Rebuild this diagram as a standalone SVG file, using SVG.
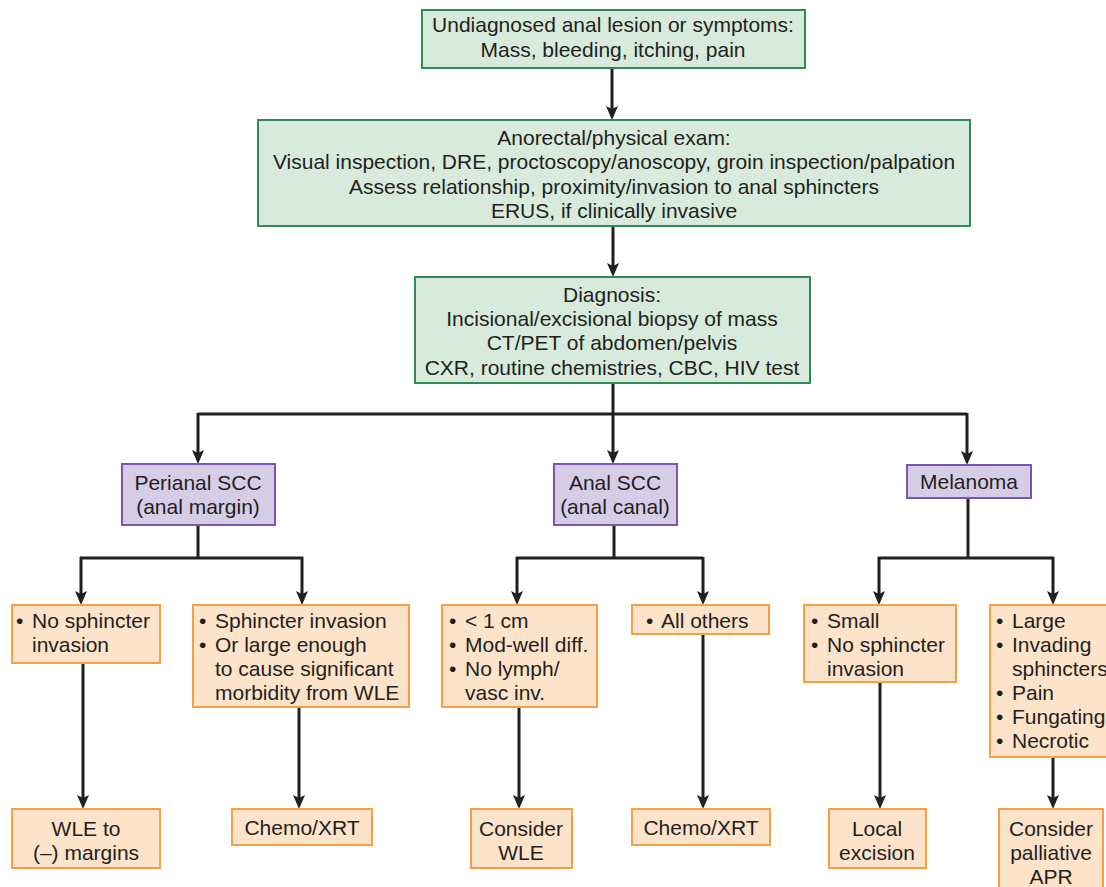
<svg xmlns="http://www.w3.org/2000/svg" width="1106" height="887" viewBox="0 0 1106 887">
<defs>
<style>
text{font-family:"Liberation Sans",Arial,sans-serif;font-size:21px;fill:#231f20}
.c{text-anchor:middle}
.g{fill:#d7eadb;stroke:#2f8a55;stroke-width:2}
.p{fill:#d5cce6;stroke:#7a58b0;stroke-width:2}
.o{fill:#fde3c9;stroke:#f5a043;stroke-width:2}
.ln{fill:none;stroke:#231f20;stroke-width:3}
.ar{fill:none;stroke:#231f20;stroke-width:3;marker-end:url(#ah)}
</style>
<marker id="ah" markerUnits="userSpaceOnUse" markerWidth="16" markerHeight="12" refX="10" refY="6" orient="auto">
<path d="M0,0 L14,6 L0,12 L3,6 z" fill="#231f20"/>
</marker>
</defs>
<rect width="1106" height="887" fill="#ffffff"/>

<g id="connectors">
<line class="ar" x1="612" y1="68" x2="612" y2="116"/>
<line class="ar" x1="613" y1="226" x2="613" y2="273"/>
<polyline class="ln" points="613,383 613,414"/>
<polyline class="ln" points="198,414 967,414"/>
<line class="ar" x1="198" y1="413" x2="198" y2="460"/>
<line class="ar" x1="613" y1="413" x2="613" y2="460"/>
<line class="ar" x1="967" y1="413" x2="967" y2="461"/>
<polyline class="ln" points="198,525 198,558"/>
<polyline class="ln" points="80,558 303,558"/>
<line class="ar" x1="81" y1="557" x2="81" y2="601"/>
<line class="ar" x1="302" y1="557" x2="302" y2="601"/>
<polyline class="ln" points="614,525 614,558"/>
<polyline class="ln" points="516,558 703,558"/>
<line class="ar" x1="517" y1="557" x2="517" y2="601"/>
<line class="ar" x1="703" y1="557" x2="703" y2="601"/>
<polyline class="ln" points="968,498 968,558"/>
<polyline class="ln" points="878,558 1054,558"/>
<line class="ar" x1="879" y1="557" x2="879" y2="601"/>
<line class="ar" x1="1053" y1="557" x2="1053" y2="601"/>
<line class="ar" x1="83" y1="663" x2="83" y2="805"/>
<line class="ar" x1="299" y1="707" x2="299" y2="805"/>
<line class="ar" x1="519" y1="707" x2="519" y2="805"/>
<line class="ar" x1="703" y1="634" x2="703" y2="805"/>
<line class="ar" x1="880" y1="682" x2="880" y2="805"/>
<line class="ar" x1="1053" y1="757" x2="1053" y2="805"/>
</g>

<g id="n-start">
<rect class="g" x="422" y="10" width="383" height="58"/>
<text class="c" x="613" y="32">Undiagnosed anal lesion or symptoms:</text>
<text class="c" x="613" y="57">Mass, bleeding, itching, pain</text>
</g>

<g id="n-exam">
<rect class="g" x="258" y="120" width="712" height="106"/>
<text class="c" x="614" y="145">Anorectal/physical exam:</text>
<text class="c" x="614" y="169">Visual inspection, DRE, proctoscopy/anoscopy, groin inspection/palpation</text>
<text class="c" x="614" y="194">Assess relationship, proximity/invasion to anal sphincters</text>
<text class="c" x="614" y="218">ERUS, if clinically invasive</text>
</g>

<g id="n-diagnosis">
<rect class="g" x="415" y="277" width="395" height="106"/>
<text class="c" x="612" y="302">Diagnosis:</text>
<text class="c" x="612" y="326">Incisional/excisional biopsy of mass</text>
<text class="c" x="612" y="350">CT/PET of abdomen/pelvis</text>
<text class="c" x="612" y="375">CXR, routine chemistries, CBC, HIV test</text>
</g>

<g id="n-perianal">
<rect class="p" x="122" y="464" width="153" height="61"/>
<text class="c" x="198" y="490">Perianal SCC</text>
<text class="c" x="198" y="514">(anal margin)</text>
</g>

<g id="n-analscc">
<rect class="p" x="554" y="464" width="123" height="61"/>
<text class="c" x="615" y="490">Anal SCC</text>
<text class="c" x="615" y="514">(anal canal)</text>
</g>

<g id="n-melanoma">
<rect class="p" x="907" y="465" width="124" height="33"/>
<text class="c" x="969" y="489">Melanoma</text>
</g>

<g id="n-nosphincter">
<rect class="o" x="12" y="605" width="148" height="58"/>
<text x="16" y="628">•</text><text x="32" y="628">No sphincter</text>
<text x="32" y="652">invasion</text>
</g>

<g id="n-sphincter">
<rect class="o" x="193" y="605" width="216" height="102"/>
<text x="199" y="628">•</text><text x="215" y="628">Sphincter invasion</text>
<text x="199" y="652">•</text><text x="215" y="652">Or large enough</text>
<text x="215" y="676">to cause significant</text>
<text x="215" y="700">morbidity from WLE</text>
</g>

<g id="n-small">
<rect class="o" x="442" y="605" width="155" height="102"/>
<text x="449" y="628">•</text><text x="465" y="628">&lt; 1 cm</text>
<text x="449" y="652">•</text><text x="465" y="652">Mod-well diff.</text>
<text x="449" y="676">•</text><text x="465" y="676">No lymph/</text>
<text x="465" y="700">vasc inv.</text>
</g>

<g id="n-allothers">
<rect class="o" x="632" y="605" width="137" height="29"/>
<text x="646" y="628">•</text><text x="661" y="628">All others</text>
</g>

<g id="n-melsmall">
<rect class="o" x="804" y="605" width="152" height="77"/>
<text x="811" y="628">•</text><text x="827" y="628">Small</text>
<text x="811" y="652">•</text><text x="827" y="652">No sphincter</text>
<text x="827" y="676">invasion</text>
</g>

<g id="n-mellarge">
<rect class="o" x="990" y="605" width="125" height="152"/>
<text x="996" y="628">•</text><text x="1012" y="628">Large</text>
<text x="996" y="652">•</text><text x="1012" y="652">Invading</text>
<text x="1012" y="676">sphincters</text>
<text x="996" y="700">•</text><text x="1012" y="700">Pain</text>
<text x="996" y="724">•</text><text x="1012" y="724">Fungating</text>
<text x="996" y="748">•</text><text x="1012" y="748">Necrotic</text>
</g>

<g id="n-wle">
<rect class="o" x="12" y="809" width="148" height="59"/>
<text class="c" x="86" y="836">WLE to</text>
<text class="c" x="86" y="860">(–) margins</text>
</g>

<g id="n-chemo1">
<rect class="o" x="232" y="809" width="140" height="36"/>
<text class="c" x="302" y="835">Chemo/XRT</text>
</g>

<g id="n-considerwle">
<rect class="o" x="471" y="809" width="101" height="59"/>
<text class="c" x="521" y="836">Consider</text>
<text class="c" x="521" y="860">WLE</text>
</g>

<g id="n-chemo2">
<rect class="o" x="632" y="809" width="138" height="36"/>
<text class="c" x="701" y="835">Chemo/XRT</text>
</g>

<g id="n-local">
<rect class="o" x="829" y="809" width="97" height="59"/>
<text class="c" x="877" y="836">Local</text>
<text class="c" x="877" y="860">excision</text>
</g>

<g id="n-apr">
<rect class="o" x="999" y="809" width="104" height="95"/>
<text class="c" x="1051" y="836">Consider</text>
<text class="c" x="1051" y="860">palliative</text>
<text class="c" x="1051" y="884">APR</text>
</g>
</svg>
